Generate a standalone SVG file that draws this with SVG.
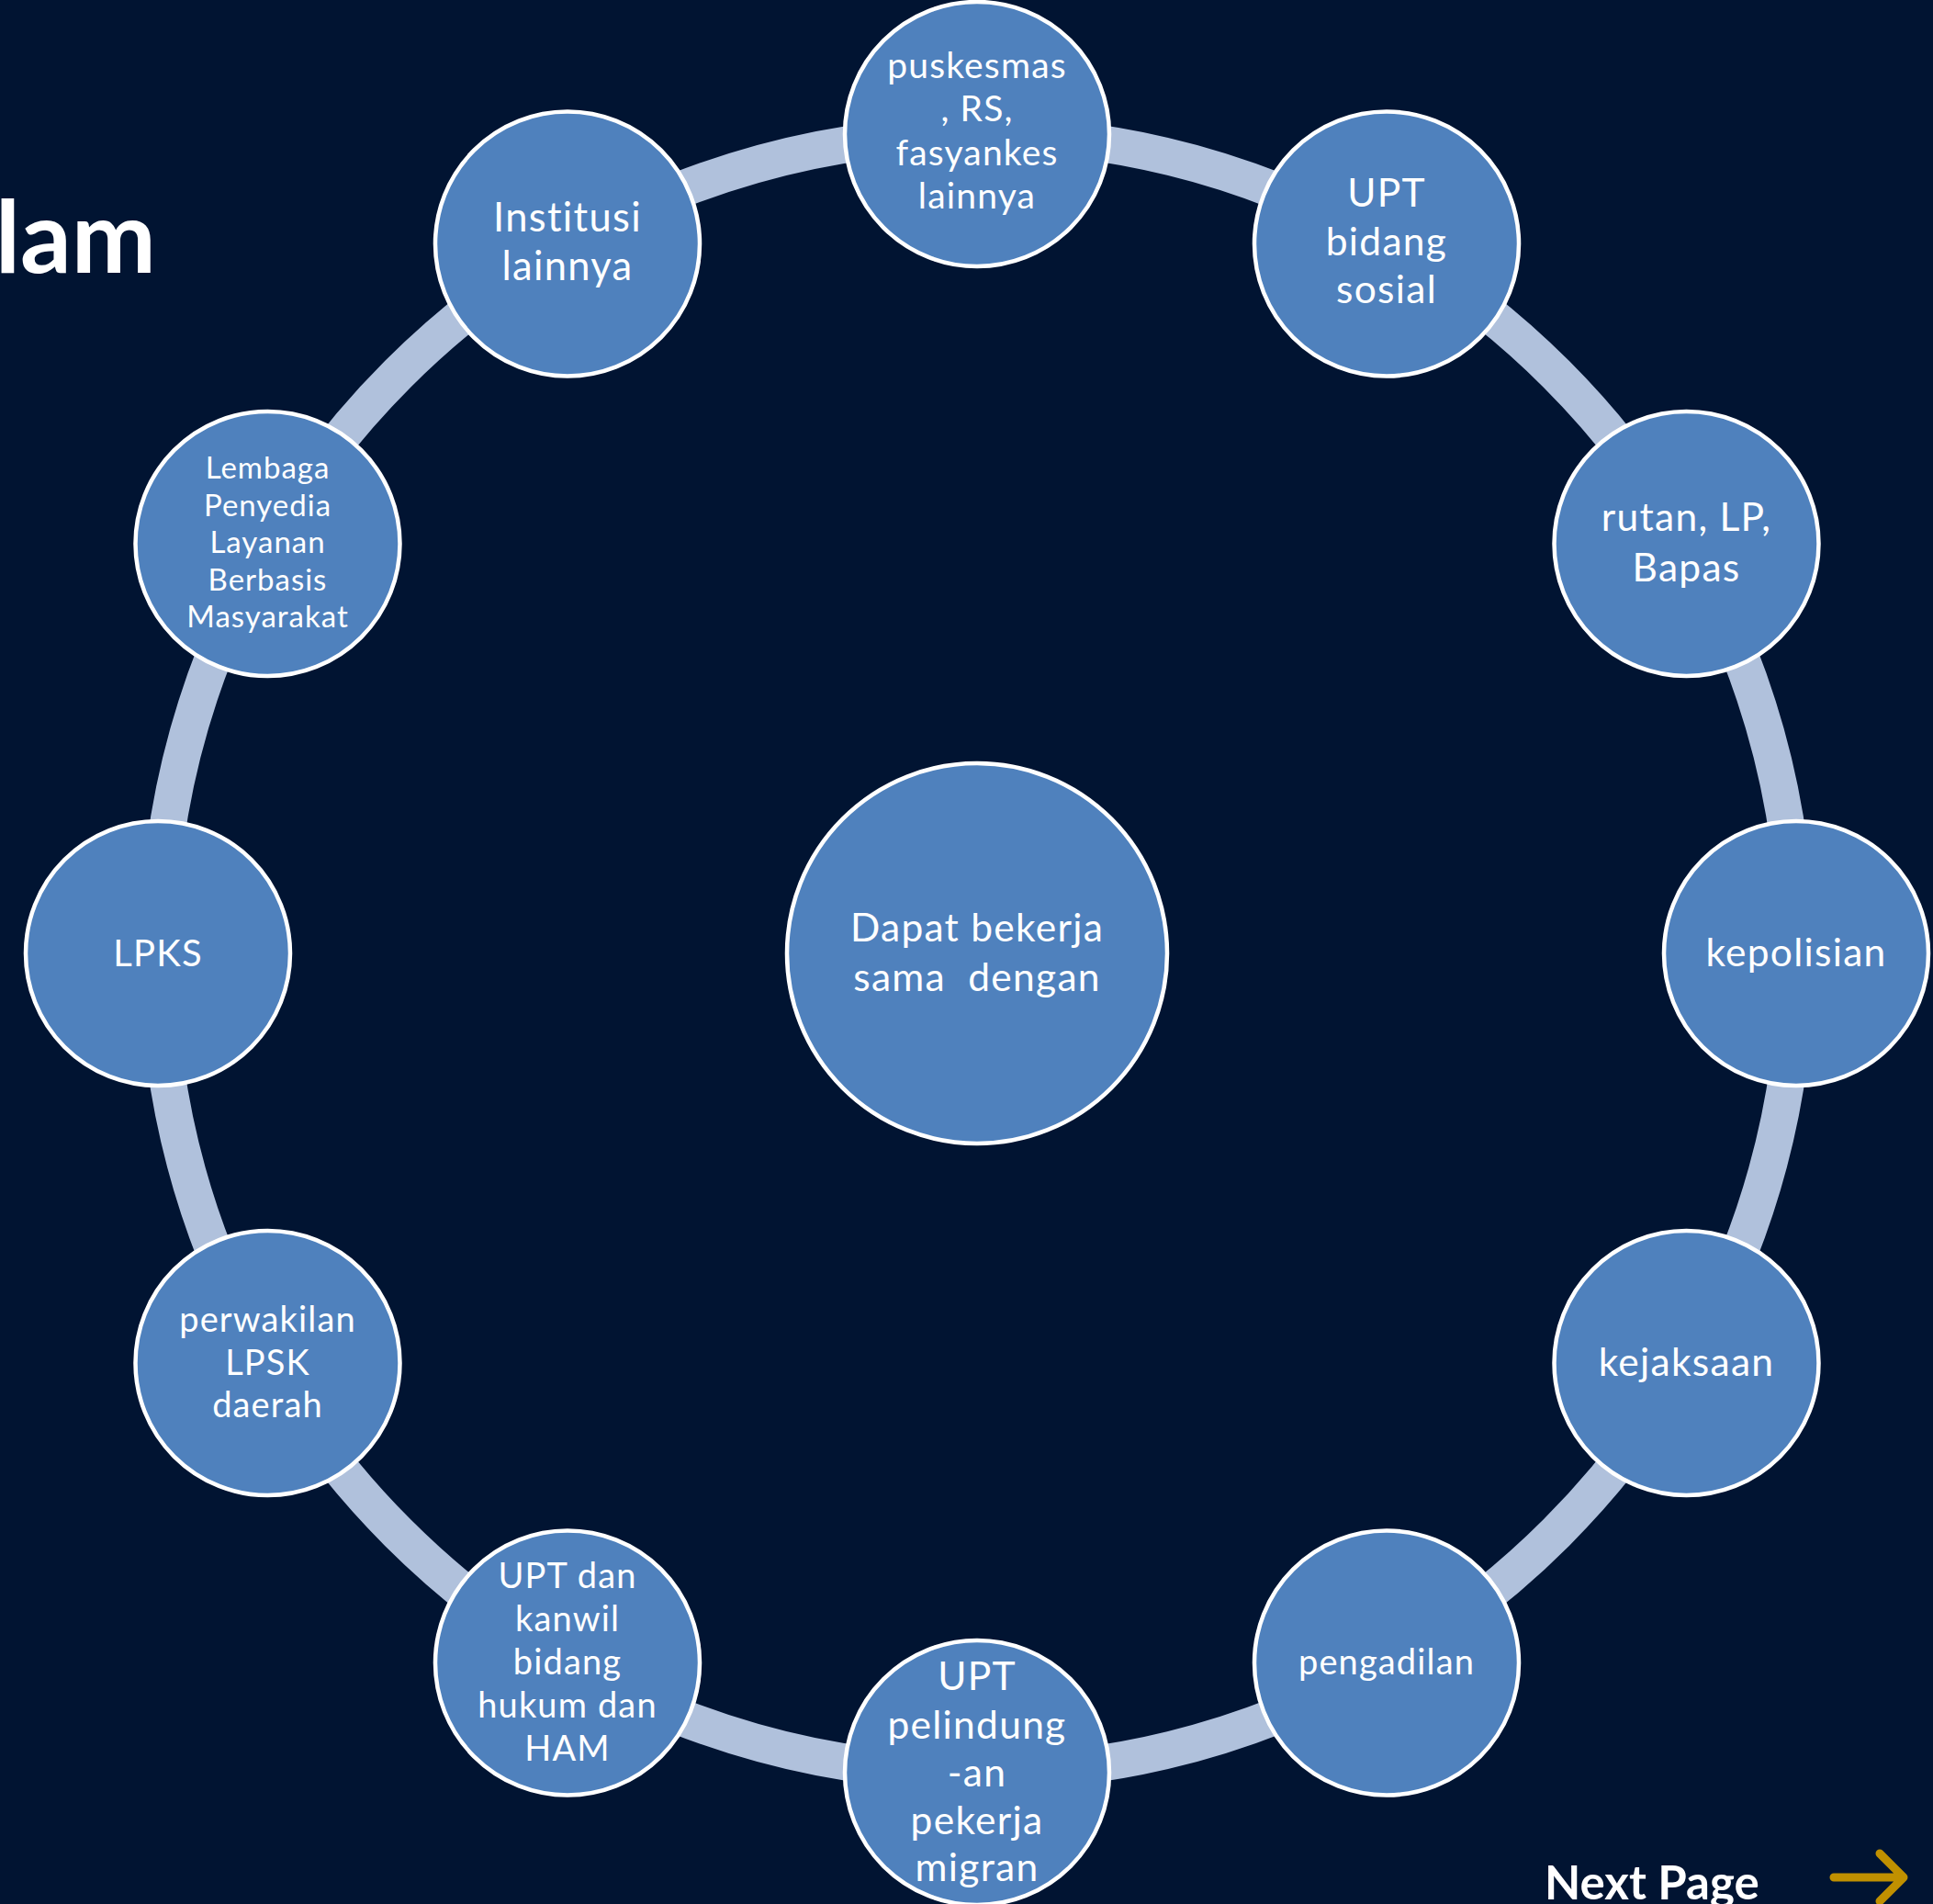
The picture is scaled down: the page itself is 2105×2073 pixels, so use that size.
<svg xmlns="http://www.w3.org/2000/svg" width="2105" height="2073" viewBox="0 0 2105 2073">
<style>
.bg{fill:#011432}
.ring{fill:none;stroke:#b0c1dc;stroke-width:40}
.node{fill:#4f81bd;stroke:#ffffff;stroke-width:4.5}
.t{font-family:Lato,"Open Sans","Liberation Sans",sans-serif;fill:#ffffff;text-anchor:middle;letter-spacing:0.03em;white-space:pre}
.title{font-family:Lato,"Open Sans","Liberation Sans",sans-serif;font-weight:bold;fill:#ffffff}
</style>
<rect class="bg" x="0" y="0" width="2105" height="2073"/>
<text class="title" x="170" y="297" font-size="110" text-anchor="end">lam</text>
<g id="connectors">
<circle class="ring" cx="1064" cy="1038" r="892"/>
</g>
<g id="center">
<circle class="node" cx="1064" cy="1038" r="207"/>
<text class="t" font-size="42.5" xml:space="preserve"><tspan x="1064" y="1025">Dapat bekerja</tspan><tspan x="1064" y="1079">sama  dengan</tspan></text>
</g>
<g id="n-puskesmas">
<circle class="node" cx="1064" cy="146" r="144"/>
<text class="t" font-size="39"><tspan x="1064" y="85">puskesmas</tspan><tspan x="1064" y="132">, RS,</tspan><tspan x="1064" y="180">fasyankes</tspan><tspan x="1064" y="227">lainnya</tspan></text>
</g>
<g id="n-upt-sosial">
<circle class="node" cx="1510" cy="265.5" r="144"/>
<text class="t" font-size="42.5"><tspan x="1510" y="225">UPT</tspan><tspan x="1510" y="278">bidang</tspan><tspan x="1510" y="330">sosial</tspan></text>
</g>
<g id="n-rutan">
<circle class="node" cx="1836.5" cy="592" r="144"/>
<text class="t" font-size="42.5"><tspan x="1836.5" y="578">rutan, LP,</tspan><tspan x="1836.5" y="633">Bapas</tspan></text>
</g>
<g id="n-kepolisian">
<circle class="node" cx="1956" cy="1038" r="144"/>
<text class="t" font-size="42.5" x="1956" y="1052">kepolisian</text>
</g>
<g id="n-kejaksaan">
<circle class="node" cx="1836.5" cy="1484" r="144"/>
<text class="t" font-size="42.5" x="1836.5" y="1498">kejaksaan</text>
</g>
<g id="n-pengadilan">
<circle class="node" cx="1510" cy="1810.5" r="144"/>
<text class="t" font-size="38" x="1510" y="1823">pengadilan</text>
</g>
<g id="n-upt-pmi">
<circle class="node" cx="1064" cy="1930" r="144"/>
<text class="t" font-size="42.5"><tspan x="1064" y="1840">UPT</tspan><tspan x="1064" y="1893">pelindung</tspan><tspan x="1064" y="1945">-an</tspan><tspan x="1064" y="1997">pekerja</tspan><tspan x="1064" y="2048">migran</tspan></text>
</g>
<g id="n-upt-kanwil">
<circle class="node" cx="618" cy="1810.5" r="144"/>
<text class="t" font-size="38"><tspan x="618" y="1729">UPT dan</tspan><tspan x="618" y="1776">kanwil</tspan><tspan x="618" y="1823">bidang</tspan><tspan x="618" y="1870">hukum dan</tspan><tspan x="618" y="1917">HAM</tspan></text>
</g>
<g id="n-lpsk">
<circle class="node" cx="291.5" cy="1484" r="144"/>
<text class="t" font-size="38"><tspan x="291.5" y="1450">perwakilan</tspan><tspan x="291.5" y="1497">LPSK</tspan><tspan x="291.5" y="1543">daerah</tspan></text>
</g>
<g id="n-lpks">
<circle class="node" cx="172" cy="1038" r="144"/>
<text class="t" font-size="40" x="172" y="1052">LPKS</text>
</g>
<g id="n-lembaga">
<circle class="node" cx="291.5" cy="592" r="144"/>
<text class="t" font-size="33"><tspan x="291.5" y="521">Lembaga</tspan><tspan x="291.5" y="561.5">Penyedia</tspan><tspan x="291.5" y="602">Layanan</tspan><tspan x="291.5" y="642.5">Berbasis</tspan><tspan x="291.5" y="683">Masyarakat</tspan></text>
</g>
<g id="n-institusi">
<circle class="node" cx="618" cy="265.5" r="144"/>
<text class="t" font-size="43.5"><tspan x="618" y="252">Institusi</tspan><tspan x="618" y="305">lainnya</tspan></text>
</g>
<g id="next">
<text class="title" x="1682" y="2068" font-size="51">Next Page</text>
<path d="M1997 2044 H2072 M2047 2018 L2073 2044 L2047 2070" fill="none" stroke="#c09000" stroke-width="9" stroke-linecap="round" stroke-linejoin="round"/>
</g>
</svg>
